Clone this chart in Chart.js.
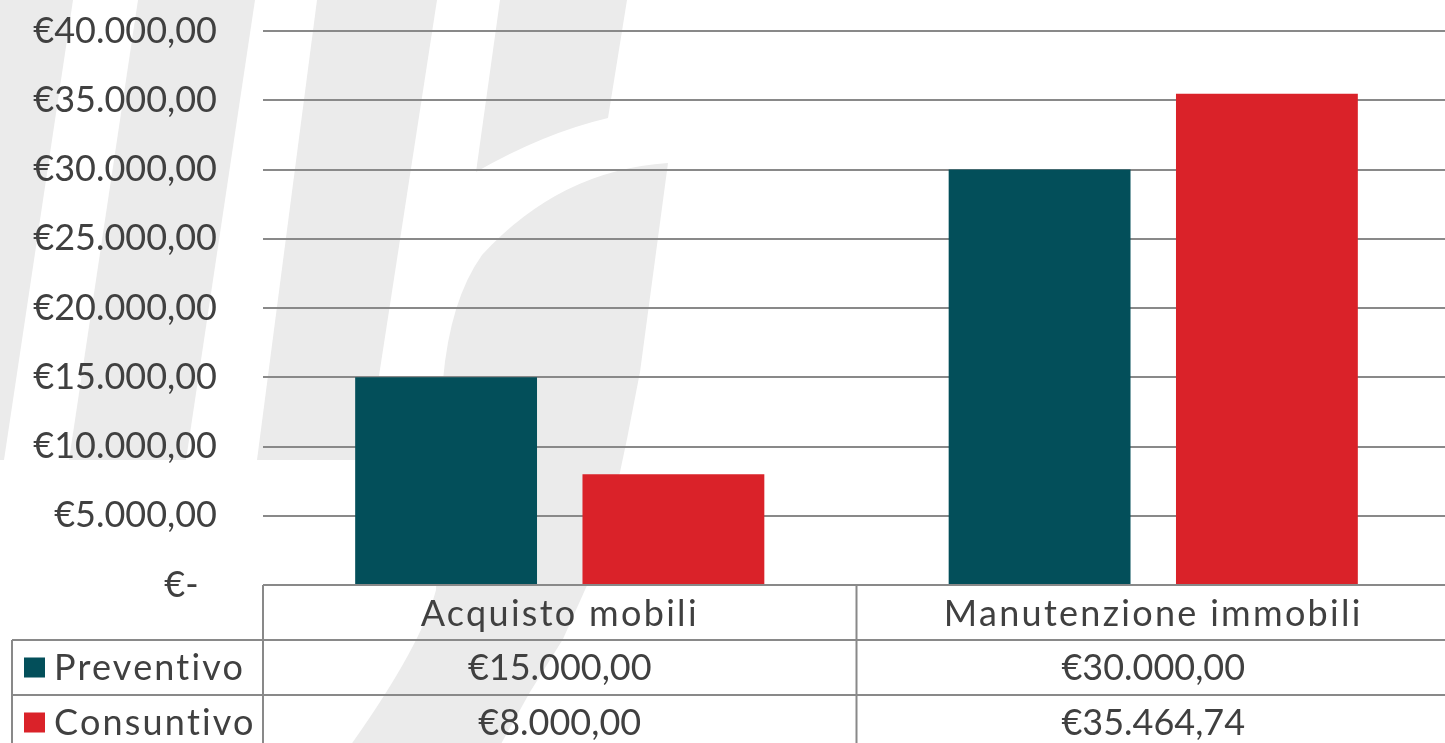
<!DOCTYPE html>
<html lang="it">
<head>
<meta charset="UTF-8">
<title>Preventivo e consuntivo</title>
<script src="https://cdn.jsdelivr.net/npm/chart.js"></script>
<style>
    html, body {
        margin: 0;
        padding: 0;
        background: #fff;
        overflow: hidden;
    }
    /* il grafico prosegue qualche pixel oltre il bordo destro della pagina */
    .chart-container {
        position: relative;
        width: 1450px;
        height: 743px;
    }
</style>
</head>
<body>
<div class="chart-container">
    <canvas id="speseChart"></canvas>
</div>

<script>
    // Dati
    const categorie = ['Acquisto mobili', 'Manutenzione immobili'];
    const serie = ['Preventivo', 'Consuntivo'];
    const preventivo = [15000, 30000];
    const consuntivo = [8000, 35464.74];
    const colori = ['#034f5a', '#da2229'];

    const FONT = 'Lato, sans-serif';
    const TESTO = '#404040';
    const LINEA = '#898989';
    const RIGA = 55; // altezza righe della tabella dati

    // formato contabile: €15.000,00 ; lo zero diventa "€-" (spazi finali come in Excel)
    function euro(v) {
        if (v === 0) return '€-  ';
        const parti = v.toFixed(2).split('.');
        return '€' + parti[0].replace(/\B(?=(\d{3})+(?!\d))/g, '.') + ',' + parti[1];
    }

    // logo grigio chiaro sullo sfondo
    const filigrana = {
        id: 'filigrana',
        beforeDraw(chart) {
            const ctx = chart.ctx;
            ctx.save();
            ctx.fillStyle = '#fff';
            ctx.fillRect(0, 0, chart.width, chart.height);
            ctx.fillStyle = '#ebebeb';

            const poligono = pts => {
                ctx.beginPath();
                ctx.moveTo(pts[0][0], pts[0][1]);
                pts.slice(1).forEach(p => ctx.lineTo(p[0], p[1]));
                ctx.closePath();
                ctx.fill();
            };
            poligono([[-10, 0], [73, 0], [4, 460], [-10, 460]]);
            poligono([[138, 0], [255, 0], [186, 460], [69, 460]]);
            poligono([[317, 0], [437, 0], [366, 460], [257, 460]]);

            // asta della "b"
            ctx.beginPath();
            ctx.moveTo(500, 0);
            ctx.lineTo(627, 0);
            ctx.lineTo(608, 118);
            ctx.quadraticCurveTo(544, 133, 476, 172);
            ctx.closePath();
            ctx.fill();

            // pancia della "b"
            ctx.beginPath();
            ctx.moveTo(668, 163);
            ctx.quadraticCurveTo(560, 170, 482, 255);
            ctx.quadraticCurveTo(450, 300, 443, 380);
            ctx.lineTo(436, 590);
            ctx.quadraticCurveTo(420, 650, 340, 760);
            ctx.lineTo(492, 760);
            [[530, 692], [563, 639], [593, 572], [613, 505], [627, 439], [640, 372], [655, 260]]
                .forEach(p => ctx.lineTo(p[0], p[1]));
            ctx.closePath();
            ctx.fill();
            ctx.restore();
        }
    };

    // tabella dati sotto l'asse x, con legenda nella prima colonna
    const tabellaDati = {
        id: 'tabellaDati',
        afterDraw(chart) {
            const ctx = chart.ctx;
            const area = chart.chartArea;
            const x = chart.scales.x;
            const passo = (area.right - area.left) / categorie.length;
            const sinistra = 12;
            const y0 = area.bottom;
            const fondo = chart.height + 5;

            ctx.save();
            ctx.strokeStyle = LINEA;
            ctx.lineWidth = 2;
            ctx.beginPath();
            ctx.moveTo(area.left, y0);
            ctx.lineTo(area.right, y0);
            for (let r = 1; r <= serie.length; r++) {
                ctx.moveTo(sinistra, y0 + r * RIGA);
                ctx.lineTo(area.right, y0 + r * RIGA);
            }
            ctx.moveTo(sinistra, y0 + RIGA);
            ctx.lineTo(sinistra, fondo);
            for (let i = 0; i <= categorie.length; i++) {
                const bx = area.left + i * passo;
                ctx.moveTo(bx, y0);
                ctx.lineTo(bx, fondo);
            }
            ctx.stroke();

            ctx.fillStyle = TESTO;
            ctx.font = '36px ' + FONT;
            ctx.textAlign = 'center';
            ctx.textBaseline = 'middle';
            const valori = [preventivo, consuntivo];
            categorie.forEach((c, i) => {
                const cx = x.getPixelForValue(i);
                ctx.letterSpacing = '2.3px';
                ctx.fillText(c, cx, y0 + RIGA / 2 + 2);
                ctx.letterSpacing = '0px';
                valori.forEach((serieValori, r) => {
                    ctx.fillText(euro(serieValori[i]), cx, y0 + RIGA * (r + 1.5) + 1);
                });
            });

            ctx.textAlign = 'left';
            ctx.letterSpacing = '2.2px';
            serie.forEach((s, r) => {
                const cy = y0 + RIGA * (r + 1.5);
                ctx.fillStyle = colori[r];
                ctx.fillRect(24, cy - 10, 21, 20);
                ctx.fillStyle = TESTO;
                ctx.fillText(s, 54, cy + 1);
            });
            ctx.restore();
        }
    };

    const ctx = document.getElementById('speseChart').getContext('2d');
    new Chart(ctx, {
        type: 'bar',
        data: {
            labels: categorie,
            datasets: serie.map((s, i) => ({
                label: s,
                data: i === 0 ? preventivo : consuntivo,
                backgroundColor: colori[i],
                borderWidth: 0,
                categoryPercentage: 0.766,
                barPercentage: 0.8
            }))
        },
        options: {
            responsive: true,
            maintainAspectRatio: false,
            animation: false,
            devicePixelRatio: 1,
            layout: {
                padding: { top: 31, right: 0, bottom: 158, left: 0 }
            },
            plugins: {
                legend: { display: false },
                tooltip: { enabled: false }
            },
            scales: {
                x: {
                    display: false
                },
                y: {
                    min: 0,
                    max: 40000,
                    afterFit(scale) {
                        scale.width = 263;
                        scale.paddingTop = 0;
                        scale.paddingBottom = 0;
                    },
                    border: { display: false },
                    grid: {
                        color: LINEA,
                        lineWidth: 2,
                        drawTicks: false
                    },
                    ticks: {
                        stepSize: 5000,
                        padding: 46,
                        color: TESTO,
                        font: { family: FONT, size: 36 },
                        callback: v => euro(v)
                    }
                }
            }
        },
        plugins: [filigrana, tabellaDati]
    });
</script>
</body>
</html>
